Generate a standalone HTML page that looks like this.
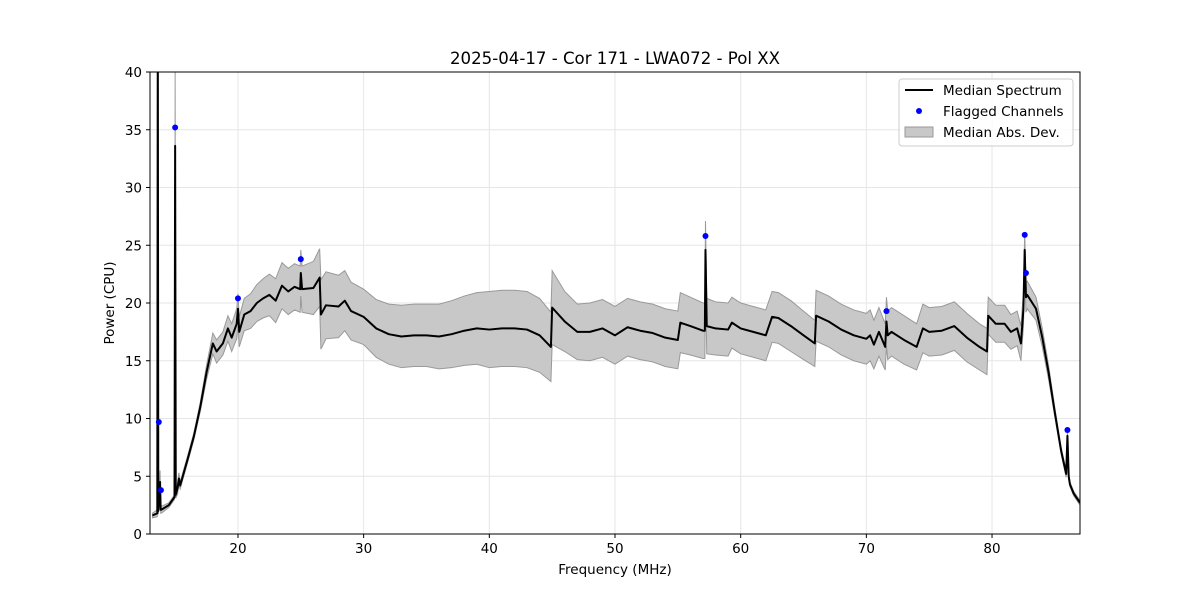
<!DOCTYPE html>
<html><head><meta charset="utf-8"><style>
body{margin:0;background:#fff}
svg text{font-family:"DejaVu Sans","Liberation Sans",sans-serif;fill:#000}
</style></head><body>
<svg id="chart" width="1200" height="600">
<defs><clipPath id="clip"><rect x="150" y="72" width="930" height="462"/></clipPath></defs>
<rect width="1200" height="600" fill="#fff"/>
<g id="grid"></g>
<g id="plot" clip-path="url(#clip)"></g>
<rect x="150" y="72" width="930" height="462" fill="none" stroke="#000" stroke-width="1"/>
<g id="axes"></g>
<text x="615" y="64" text-anchor="middle" font-size="16.6">2025-04-17 - Cor 171 - LWA072 - Pol XX</text>
<text x="615" y="574" text-anchor="middle" font-size="13.5">Frequency (MHz)</text>
<text x="114" y="303" text-anchor="middle" font-size="13.5" transform="rotate(-90 114 303)">Power (CPU)</text>
<g>
<rect x="899" y="79" width="174" height="67" rx="3" fill="#fff" fill-opacity="0.8" stroke="#ccc"/>
<line x1="905" y1="90" x2="933" y2="90" stroke="#000" stroke-width="2"/>
<text x="943" y="95" font-size="13.5">Median Spectrum</text>
<circle cx="919" cy="111" r="3" fill="#00f"/>
<text x="943" y="116" font-size="13.5">Flagged Channels</text>
<rect x="905" y="127" width="28" height="10" fill="#c8c8c8" stroke="#999"/>
<text x="943" y="137" font-size="13.5">Median Abs. Dev.</text>
</g>
</svg>
<script>
const freqs=[13.2,13.58,13.62,13.66,13.8,13.85,13.9,14.5,14.95,15.0,15.05,15.2,15.3,15.4,16,16.5,17,17.5,18,18.3,18.8,19.2,19.5,19.9,20.0,20.1,20.5,21,21.5,22,22.5,23,23.5,24,24.5,24.95,25.0,25.1,26,26.5,26.6,27,28,28.5,29,30,31,32,33,34,35,36,37,38,39,40,41,42,43,44,44.9,45,46,47,48,49,50,51,52,53,54,55,55.2,56,57,57.15,57.2,57.3,58,59,59.3,60,61,62,62.5,63,64,65,65.9,66,67,68,69,70,70.3,70.6,71,71.5,71.6,71.7,72,73,74,74.5,75,76,77,78,79,79.6,79.7,80.3,81,81.5,82,82.3,82.5,82.6,82.7,82.8,83.5,84,84.5,85,85.5,85.9,86.0,86.1,86.2,86.5,87];
const median=[1.6,1.8,45,2.0,4.5,2.1,2.1,2.5,3.2,33.6,3.4,4.0,4.8,4.2,6.5,8.5,11,14,16.5,15.8,16.5,17.8,17,18.2,19.5,17.5,19,19.3,20,20.4,20.7,20.2,21.5,21,21.4,21.2,22.6,21.2,21.3,22.2,19,19.8,19.7,20.2,19.3,18.8,17.8,17.3,17.1,17.2,17.2,17.1,17.3,17.6,17.8,17.7,17.8,17.8,17.7,17.2,16.2,19.6,18.4,17.5,17.5,17.8,17.2,17.9,17.6,17.4,17.0,16.8,18.3,18.0,17.6,17.6,24.6,18.0,17.8,17.7,18.3,17.8,17.5,17.2,18.8,18.7,18.0,17.2,16.5,18.9,18.4,17.7,17.2,16.9,17.2,16.4,17.5,16.2,18.4,17.2,17.5,16.8,16.2,17.8,17.5,17.6,18.0,17.0,16.2,15.8,18.9,18.2,18.2,17.5,17.8,16.5,19.5,24.6,20.5,20.7,19.5,17,14,10.5,7.2,5.2,8.5,5.0,4.3,3.5,2.7];
const mad=[0.2,0.3,2,0.3,1,0.3,0.3,0.2,0.2,6.4,0.3,0.5,0.5,0.3,0.3,0.3,0.4,0.6,0.9,1.0,1.0,1.1,1.2,1.3,1.3,1.3,1.4,1.5,1.6,1.7,1.8,1.9,2.0,2.0,2.0,2.0,2.0,2.0,2.3,2.5,3.0,2.9,2.7,2.6,2.5,2.4,2.5,2.6,2.7,2.7,2.7,2.8,2.9,3.0,3.1,3.3,3.3,3.3,3.3,3.2,3.0,3.2,2.6,2.4,2.5,2.5,2.5,2.5,2.5,2.5,2.5,2.5,2.6,2.5,2.4,2.4,2.5,2.4,2.3,2.3,2.2,2.2,2.2,2.2,2.2,2.2,2.2,2.1,2.0,2.2,2.2,2.2,2.2,2.2,2.2,2.1,2.1,2.0,2.1,2.1,2.1,2.1,2.0,2.1,2.1,2.1,2.1,2.1,2.0,2.0,1.6,1.6,1.6,1.5,1.5,1.5,1.5,1.5,1.3,1.2,1.0,0.8,0.6,0.4,0.3,0.3,0.3,0.3,0.2,0.2,0.2];
const flagF=[13.7,13.87,15.0,20.0,25.0,57.2,71.6,82.6,82.7,86.0];
const flagV=[9.7,3.8,35.2,20.4,23.8,25.8,19.3,25.9,22.6,9.0];
const xTicks=[20,30,40,50,60,70,80];
const yTicks=[0,5,10,15,20,25,30,35,40];
const X0=150,X1=1080,Y0=534,Y1=72,FMIN=13,FMAX=87,VMAX=40;
const sx=f=>X0+(f-FMIN)/(FMAX-FMIN)*(X1-X0);
const sy=v=>Y0-v/VMAX*(Y0-Y1);
const NS='http://www.w3.org/2000/svg';
function mk(parent,tag,attrs){const e=document.createElementNS(NS,tag);for(const k in attrs)e.setAttribute(k,attrs[k]);document.getElementById(parent).appendChild(e);return e;}
xTicks.forEach(t=>{
 const g=mk('grid','line',{x1:sx(t),x2:sx(t),y1:Y1,y2:Y0,stroke:'#e6e6e6','stroke-width':1});
 
 
 mk('axes','line',{x1:sx(t),x2:sx(t),y1:Y0,y2:Y0+4,stroke:'#000'});
 const tx=mk('axes','text',{x:sx(t),y:Y0+19,'text-anchor':'middle','font-size':13.5});
 tx.textContent=t;
 
 
});
yTicks.forEach(t=>{
 const g=mk('grid','line',{x1:X0,x2:X1,y1:sy(t),y2:sy(t),stroke:'#e6e6e6','stroke-width':1});
 
 
 mk('axes','line',{x1:X0-4,x2:X0,y1:sy(t),y2:sy(t),stroke:'#000'});
 const tx=mk('axes','text',{x:X0-8,y:sy(t)+5,'text-anchor':'end','font-size':13.5});
 tx.textContent=t;
 
 
});
let up=freqs.map((f,i)=>sx(f)+','+sy(median[i]+mad[i]));
let lo=freqs.map((f,i)=>sx(f)+','+sy(median[i]-mad[i])).reverse();
const band=mk('plot','polygon',{points:up.concat(lo).join(' '),fill:'#c8c8c8',stroke:'#999','stroke-width':1});


const line=mk('plot','polyline',{points:freqs.map((f,i)=>sx(f)+','+sy(median[i])).join(' '),fill:'none',stroke:'#000','stroke-width':2,'stroke-linejoin':'round'});


flagF.forEach((f,i)=>{
 const c=mk('plot','circle',{cx:sx(f),cy:sy(flagV[i]),r:3,fill:'#00f'});
 
 
});
</script>
</body></html>
